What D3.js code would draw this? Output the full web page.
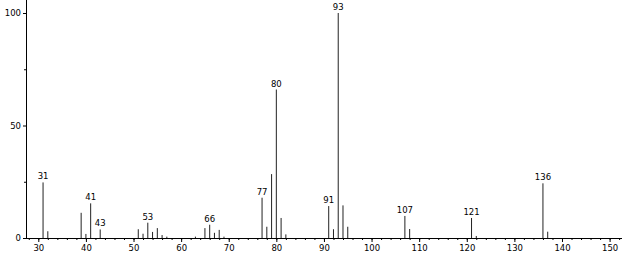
<!DOCTYPE html>
<meta charset="utf-8">
<style>
  body { margin: 0; background: #fff; }
  .tick text, .lbl { font-family: "DejaVu Sans", Verdana, sans-serif; font-size: 8.5px; fill: #000; }
  .peak { stroke: #222; stroke-width: 1px; }
</style>
<body>
<div id="spec"></div>
<script src="https://d3js.org/d3.v7.min.js"></script>
<script>
  // m/z and relative intensity
  var mz = [31, 32, 39, 40, 41, 43, 51, 52, 53, 54, 55, 56, 57, 63, 65, 66, 67, 68, 69,
            77, 78, 79, 80, 81, 82, 91, 92, 93, 94, 95, 107, 108, 121, 122, 136, 137];
  var intensity = [24.7, 3, 11.2, 1.8, 15.4, 3.8, 3.9, 1.9, 6.8, 2.7, 4.4, 1.3, 0.6, 0.6, 4.4, 5.9, 2.3, 3.6, 0.6,
                   17.9, 5, 28.4, 66, 8.9, 1.6, 14.2, 3.9, 100, 14.5, 5, 9.8, 4, 8.9, 0.9, 24.3, 2.8];
  var labelled = [31, 41, 43, 53, 66, 77, 80, 91, 93, 107, 121, 136];
  var xTicks = [30, 40, 50, 60, 70, 80, 90, 100, 110, 120, 130, 140, 150];
  var yTicks = [0, 50, 100];

  var width = 623, height = 254;

  var x = d3.scaleLinear().domain([30, 150]).range([38.3, 609.6]);
  var y = d3.scaleLinear().domain([0, 100]).range([238, 13]);

  var svg = d3.select("#spec").append("svg")
    .attr("width", width)
    .attr("height", height);

  var data = mz.map(function (m, i) { return { mz: m, v: intensity[i] }; });

  // bars
  svg.selectAll(".peak")
    .data(data)
    .enter().append("line")
    .attr("class", "peak")
    .attr("x1", d => x(d.mz))
    .attr("x2", d => x(d.mz))
    .attr("y1", y(0))
    .attr("y2", d => y(d.v));

  // peak labels
  svg.selectAll(".lbl")
    .data(data.filter(d => labelled.indexOf(d.mz) >= 0))
    .enter().append("text")
    .attr("class", "lbl")
    .attr("x", d => x(d.mz))
    .attr("y", d => y(d.v) - 3)
    .attr("text-anchor", "middle")
    .text(d => d.mz);

  // x axis: minor ticks every 2, major every 10
  var minor = d3.range(28, 153, 2);
  svg.append("g")
    .attr("transform", "translate(0," + y(0) + ")")
    .call(d3.axisBottom(x).tickValues(minor).tickSize(2).tickFormat(""))
    .call(g => g.select(".domain").remove());
  svg.append("g")
    .attr("transform", "translate(0," + y(0) + ")")
    .call(d3.axisBottom(x).tickValues(xTicks).tickSize(4).tickPadding(3).tickFormat(d3.format("d")))
    .call(g => g.select(".domain").remove());

  // y axis
  svg.append("g")
    .attr("transform", "translate(26,0)")
    .call(d3.axisLeft(y).tickValues([25, 75]).tickSize(2).tickFormat(""))
    .call(g => g.select(".domain").remove());
  svg.append("g")
    .attr("transform", "translate(26,0)")
    .call(d3.axisLeft(y).tickValues(yTicks).tickSize(3).tickPadding(2))
    .call(g => g.select(".domain").remove());

  svg.selectAll(".tick line").attr("stroke", "#000");

  // axis lines
  svg.append("line")
    .attr("x1", 26).attr("x2", 622)
    .attr("y1", y(0) + 0.5).attr("y2", y(0) + 0.5)
    .attr("stroke", "#000");
  svg.append("line")
    .attr("x1", 26.5).attr("x2", 26.5)
    .attr("y1", 0).attr("y2", y(0) + 0.5)
    .attr("stroke", "#000");
</script>
</body>
